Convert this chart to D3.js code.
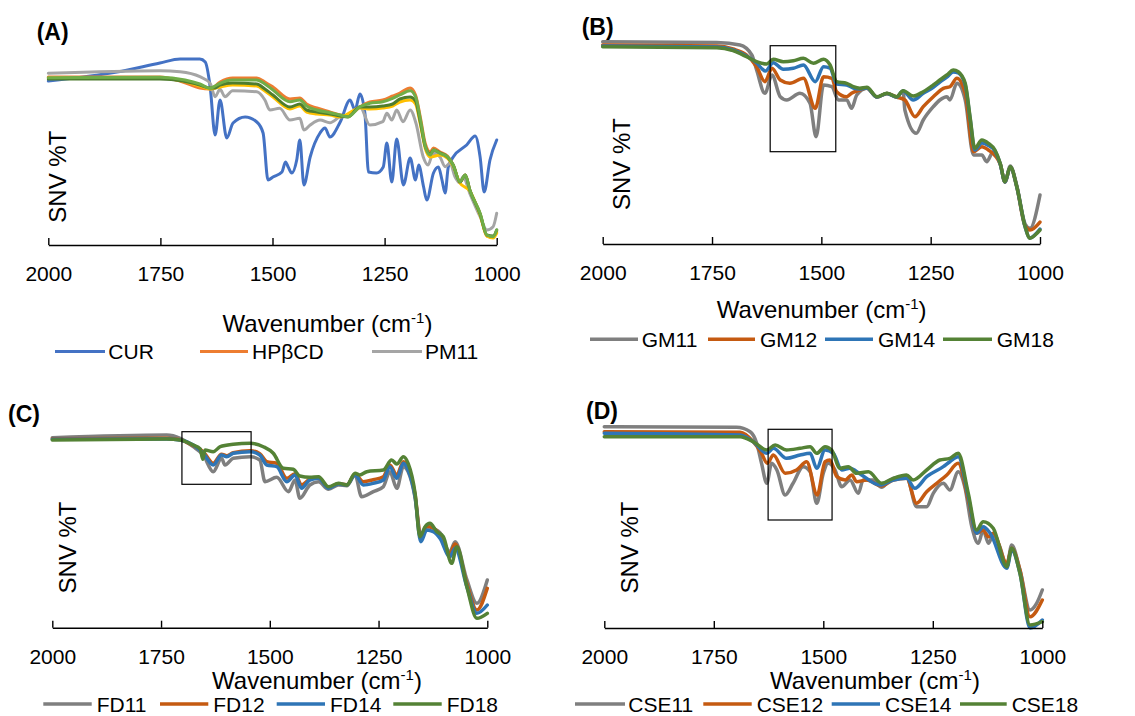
<!DOCTYPE html>
<html>
<head>
<meta charset="utf-8">
<script src="https://cdn.jsdelivr.net/npm/d3@7"></script>
<style>
  body { margin: 0; background: #fff; }
  text { font-family: "Liberation Sans", Arial, sans-serif; fill: #000; }
</style>
</head>
<body>
<script>
// x ticks shared by all four panels (cm-1)
const wavenumberTicks = [2000, 1750, 1500, 1250, 1000];

// ---- panel A : [wavenumber, SNV %T (arbitrary units)]
const legendA = ["CUR", "HPβCD", "PM11"];
const curA = [[2000,164],[1847,173],[1751,182],[1706,186],[1662,186],[1650,183],[1639,158],[1628,110],[1617,145],
  [1602,107],[1588,122],[1561,128],[1535,123],[1521,112],[1510,65],[1499,68],[1479,73],[1471,83],[1465,78],[1457,72],
  [1446,85],[1439,105],[1430,60],[1416,88],[1394,112],[1383,117],[1372,108],[1349,123],[1327,145],[1316,135],[1305,151],
  [1294,132],[1286,73],[1268,72],[1253,78],[1245,102],[1234,63],[1223,106],[1208,60],[1193,87],[1181,65],[1174,80],
  [1163,58],[1156,45],[1141,72],[1130,78],[1122,65],[1115,52],[1108,78],[1097,88],[1067,100],[1048,109],[1037,88],
  [1028,53],[1015,85],[1000,105]];
const hpbcdA = [[2000,168],[1751,168],[1700,163],[1662,157],[1639,156],[1617,163],[1589,167],[1535,167],[1517,163],
  [1499,158],[1461,146],[1439,147],[1424,141],[1401,137],[1372,133],[1349,130],[1332,129],[1305,138],[1283,143],
  [1254,145],[1232,149],[1216,152],[1193,157],[1181,150],[1170,127],[1159,101],[1148,93],[1141,97],[1126,93],
  [1110,89],[1097,80],[1082,63],[1070,70],[1060,55],[1037,31],[1022,9],[1008,8],[1000,14]];
const pm11A = [[2000,171.7],[1751,174.3],[1706,173.3],[1662,168.3],[1639,161.7],[1628,148.3],[1617,155.7],[1606,148.3],
  [1589,154.3],[1535,153.3],[1517,145],[1506,135],[1484,136.7],[1461,125],[1439,126.7],[1430,115],[1416,120],[1394,125],
  [1372,122.3],[1349,128.3],[1327,130],[1305,138.3],[1283,120],[1254,123.3],[1245,131.7],[1234,125],[1223,135],
  [1209,123.3],[1193,135],[1180,121.7],[1164,88.3],[1153,80],[1142,91.7],[1127,88.3],[1115,78.3],[1104,81.7],
  [1093,68.3],[1082,62.3],[1075,68.3],[1060,51.7],[1037,28.3],[1022,15],[1008,18.3],[1000,31.7]];
// further traces drawn in panel A but not named in its legend
const yellowA = [[2000,167],[1751,167],[1700,164],[1662,159],[1639,156],[1617,158],[1589,160],[1535,159],[1517,154],
  [1499,148],[1461,136],[1439,139],[1424,133],[1401,131],[1372,130],[1349,128],[1305,137],[1283,136],[1254,137],
  [1232,139],[1216,143],[1193,145],[1181,141],[1170,120],[1159,96],[1148,88],[1126,90],[1110,87],[1097,79],[1082,62],
  [1060,54],[1037,30],[1022,9],[1008,7],[1000,12]];
const darkGreenA = [[2000,166],[1751,166],[1700,164],[1662,160],[1639,157],[1628,157],[1617,160],[1589,162],[1535,161],
  [1517,156],[1499,150],[1461,138],[1439,141],[1424,135],[1401,133],[1372,131],[1349,129],[1332,128],[1305,138],
  [1283,138],[1254,139],[1232,141],[1216,146],[1193,148],[1181,144],[1170,122],[1159,98],[1148,91],[1141,95],
  [1126,92],[1110,88],[1097,80],[1082,63],[1070,70],[1060,55],[1037,31],[1022,10],[1008,9],[1000,15]];
const greenA = [[2000,167.3],[1751,167.7],[1695,165],[1662,161],[1639,156.7],[1628,159],[1617,161.7],[1589,165],
  [1535,165],[1517,161],[1499,155],[1461,143.3],[1439,145],[1424,139],[1401,135],[1372,132.3],[1349,130],[1332,128.3],
  [1305,138.3],[1283,141.7],[1254,143.3],[1232,146.7],[1216,150],[1193,154.3],[1181,148.3],[1170,125],[1159,98.3],
  [1148,90],[1141,95],[1126,91.7],[1110,88.3],[1097,80],[1082,63.3],[1070,70],[1060,55],[1037,31.7],[1022,10],
  [1008,8.3],[1000,15]];

// ---- panel B
const legendB = ["GM11", "GM12", "GM14", "GM18"];
const gm11 = [[2000,202.3],[1739,201.5],[1686,199],[1659,189],[1648,174],[1629,150.7],[1613,169],[1594,147.3],
  [1579,144],[1549,150.7],[1526,140.7],[1512,107.3],[1495,159],[1476,157.3],[1461,144],[1442,144],[1431,135.7],
  [1419,149],[1396,155.7],[1373,147],[1350,150.5],[1328,147],[1313,153],[1309,134],[1283,110.7],[1267,124],
  [1244,137.3],[1229,144],[1213,147.3],[1206,144],[1190,160.7],[1171,144],[1152,89],[1133,89],[1122,82.3],
  [1107,92.3],[1091,80],[1080,62],[1068,78],[1053,58],[1034,20],[1023,15.7],[1000,49]];
const gm12 = [[2000,199],[1739,198],[1702,195],[1671,189],[1648,177.3],[1629,162.3],[1613,175.7],[1594,164],
  [1572,160.7],[1541,165.7],[1514,135.7],[1495,167.3],[1476,165.7],[1465,152.3],[1442,147.3],[1431,150.7],
  [1412,154],[1396,156],[1373,147],[1350,150.5],[1328,147],[1309,144],[1286,127.3],[1267,137.3],[1244,147.3],
  [1221,155.7],[1206,157.3],[1190,165.7],[1171,150.7],[1152,92.3],[1133,97.3],[1118,94],[1091,80],[1080,62],
  [1068,77],[1053,57],[1034,18],[1023,14],[1000,22]];
const gm14 = [[2000,198],[1739,197],[1702,194],[1671,188],[1648,181],[1628,173],[1610,181.3],[1587,174.7],
  [1564,175.7],[1541,179],[1514,162.3],[1495,177.3],[1480,175.7],[1465,160],[1442,159],[1427,156],[1412,155],
  [1396,156],[1373,147],[1350,150.5],[1328,147],[1313,153],[1290,144],[1267,150.7],[1244,156.7],[1229,162],
  [1213,167],[1198,172],[1187,171],[1171,159],[1160,126],[1149,94],[1133,101],[1118,98.5],[1103,93],[1091,80],
  [1080,62],[1068,77],[1053,57],[1034,17],[1023,6],[1011,9.5],[1000,15]];
const gm18 = [[2000,197.3],[1739,196.3],[1702,193.3],[1671,187.3],[1648,182.3],[1625,180],[1610,184.7],[1587,182.3],
  [1564,183.3],[1541,185.7],[1518,180.7],[1495,184.7],[1480,179],[1465,162.3],[1442,160.7],[1427,157.3],[1412,155.7],
  [1396,156.7],[1373,147.3],[1350,150.7],[1328,147.3],[1313,153.3],[1290,148],[1267,152.3],[1244,159],[1229,164],
  [1213,169],[1198,174],[1187,172.3],[1171,160.7],[1160,127.3],[1149,95.7],[1133,104],[1118,100.7],[1103,94],
  [1091,80.7],[1080,62.3],[1068,77.3],[1053,57.3],[1034,17.3],[1023,5.7],[1011,9],[1000,14]];
const boxB = [1617, 1467, 92.3, 198.3];

// ---- panel C
const legendC = ["FD11", "FD12", "FD14", "FD18"];
const fd11 = [[2000,190],[1737,192.7],[1706,189.4],[1676,181],[1653,172.7],[1630,156],[1611,169.4],[1603,162.7],
  [1584,169.4],[1545,171],[1523,167.7],[1511,146],[1484,150.4],[1457,136],[1442,147.7],[1431,129.4],[1408,142.7],
  [1388,146],[1365,138.4],[1342,142.7],[1323,142],[1304,152.7],[1289,131],[1262,136],[1239,141],[1224,156],
  [1208,139.4],[1193,161],[1182,156],[1166,130],[1153,91],[1139,102.7],[1124,99.4],[1109,95],[1086,76],[1074,86],
  [1047,48],[1024,24.4],[1000,47.7]];
const fd12 = [[2000,189],[1737,189.5],[1706,188],[1676,182],[1653,176],[1630,164.4],[1611,173.5],[1599,172],
  [1584,175],[1545,177],[1523,174],[1507,166],[1484,164.4],[1461,149.4],[1442,154],[1427,142.7],[1408,148.5],
  [1388,150],[1365,140],[1342,144],[1323,143],[1304,153.5],[1285,146],[1262,148],[1239,151],[1224,162.7],
  [1208,152.7],[1193,166],[1182,160],[1166,133],[1153,91],[1139,101],[1124,99.4],[1109,93],[1086,74.4],[1074,83.7],
  [1047,44],[1024,17.7],[1000,39.4]];
const fd14 = [[2000,188.4],[1737,188.7],[1706,187.7],[1676,182.7],[1653,174.4],[1630,162.7],[1611,172.7],[1599,171],
  [1584,174.4],[1545,176],[1523,172.7],[1507,162.7],[1484,161],[1461,146],[1442,152.7],[1427,139.4],[1408,147.7],
  [1388,149.4],[1365,139.4],[1342,143.7],[1323,142.7],[1304,152.7],[1285,142.7],[1262,144.4],[1239,147.7],
  [1224,161],[1208,149.4],[1193,164.4],[1182,157.7],[1166,131],[1153,86],[1139,97.7],[1124,96],[1109,89.4],
  [1086,71],[1074,79.4],[1047,41],[1024,14.4],[1000,22.7]];
const fd18 = [[2000,187.7],[1737,188.7],[1706,187.7],[1676,182.7],[1660,178.7],[1654,168.4],[1649,177.7],[1630,176],
  [1614,181],[1584,183.4],[1545,184.4],[1515,181],[1492,174.4],[1469,159.4],[1446,158.4],[1431,151.7],[1408,150.4],
  [1388,151],[1365,141],[1342,144.4],[1323,142.7],[1304,154.4],[1293,152.7],[1277,156],[1239,157.7],[1220,167.7],
  [1208,163.7],[1193,171],[1182,164.4],[1166,134.4],[1155,91],[1143,101],[1132,104.4],[1116,96],[1101,91],
  [1082,64.4],[1070,81],[1047,41],[1024,9.4],[1000,14.4]];
const boxC = [1702, 1543, 143.4, 196];

// ---- panel D
const legendD = ["CSE11", "CSE12", "CSE14", "CSE18"];
const cse11 = [[2000,201.3],[1698,200.7],[1667,196.3],[1652,184.7],[1641,164.7],[1629,144.7],[1618,164.7],[1606,158],
  [1587,133],[1569,144.7],[1546,161.3],[1530,156.3],[1515,124.7],[1500,154.7],[1489,164.7],[1473,158],[1458,141.3],
  [1439,148],[1420,134.7],[1409,148],[1386,148],[1367,140.7],[1348,148],[1329,150.7],[1310,151.3],[1287,121.3],
  [1264,121.3],[1249,134.7],[1226,144.7],[1211,138],[1192,156.3],[1177,141.3],[1161,101.3],[1146,84.7],[1135,98],
  [1123,84.7],[1112,93],[1097,81.3],[1081,61.3],[1070,83],[1051,58],[1028,18],[1013,24.7],[1000,38]];
const cse12 = [[2000,196.3],[1690,195.7],[1660,186.3],[1641,174.7],[1628,164.7],[1614,173],[1587,154.7],[1561,158],
  [1538,166.3],[1514,133],[1496,166.3],[1485,168],[1469,151.3],[1450,148],[1435,153],[1424,146.3],[1401,148],
  [1367,142],[1340,148],[1310,149.7],[1287,124.7],[1264,136.3],[1241,144.7],[1218,153],[1192,164.7],[1169,128],
  [1150,94.7],[1135,98],[1123,91.3],[1112,94.7],[1081,64.7],[1070,79.7],[1051,58],[1028,11.3],[1000,28]];
const cse14 = [[2000,194.7],[1690,193],[1660,186.3],[1629,174.7],[1614,179.7],[1584,169.7],[1553,173],[1530,174.7],
  [1515,159.7],[1496,178],[1477,174.7],[1458,158],[1439,159.7],[1416,154],[1371,143],[1340,148],[1310,149.7],
  [1291,139.7],[1264,151.3],[1226,161.3],[1211,166.3],[1192,171.3],[1169,131.3],[1150,94.7],[1135,101.3],
  [1119,94.7],[1081,59.7],[1070,78],[1051,54.7],[1028,0],[1000,8]];
const cse18 = [[2000,191.3],[1690,191.3],[1660,186.3],[1629,178],[1610,183],[1584,178],[1553,179.7],[1530,181.3],
  [1515,174.7],[1496,181.3],[1481,178],[1462,159.7],[1443,161.3],[1424,154.7],[1397,156.3],[1367,144.7],[1340,149.7],
  [1310,153],[1295,148],[1264,158],[1234,168],[1211,169.7],[1192,174.7],[1169,134.7],[1150,98],[1135,106.3],
  [1112,99.7],[1081,61.3],[1070,79.7],[1051,54.7],[1028,3],[1000,6.3]];
const boxD = [1626, 1480, 108, 198.7];

const width = 1135;
const height = 716;
const yExtent = [0, 200];

const svg = d3.select("body").append("svg")
  .attr("width", width)
  .attr("height", height);

const panels = [
  { tag: "(A)", x0: 48.3, x1: 496.7, axisY: 245, lw: 3,
    series: [[curA, "#4472C4"], [hpbcdA, "#ED7D31"], [pm11A, "#A5A5A5"], [yellowA, "#FFC000"],
             [darkGreenA, "#4E7D2E"], [greenA, "#70AD47"]],
    legend: legendA, legendColors: ["#4472C4", "#ED7D31", "#A5A5A5"],
    legendPos: [[55, 105, 108.3], [200, 248, 252], [372, 422, 425]], legendY: 359,
    tagPos: [36.7, 40], snvPos: [66, 176.7], titlePos: [327.5, 332], box: null },
  { tag: "(B)", x0: 602.7, x1: 1040, axisY: 244, lw: 3.5,
    series: [[gm11, "#7F7F7F"], [gm12, "#C55A11"], [gm14, "#2E75B6"], [gm18, "#548235"]],
    legend: legendB, legendColors: ["#7F7F7F", "#C55A11", "#2E75B6", "#548235"],
    legendPos: [[590, 638, 641.7], [708, 755, 760], [825, 873, 878], [943, 992, 996.7]], legendY: 346.7,
    tagPos: [581.7, 35], snvPos: [630, 164], titlePos: [821.7, 318], box: boxB },
  { tag: "(C)", x0: 52.3, x1: 487.3, axisY: 627.7, lw: 3.5,
    series: [[fd11, "#7F7F7F"], [fd12, "#C55A11"], [fd14, "#2E75B6"], [fd18, "#548235"]],
    legend: legendC, legendColors: ["#7F7F7F", "#C55A11", "#2E75B6", "#548235"],
    legendPos: [[43.3, 91.7, 96.7], [160, 208.3, 213.3], [276.7, 325, 330], [393.3, 441.7, 446.7]], legendY: 711.5,
    tagPos: [8, 422], snvPos: [76, 547.5], titlePos: [317, 689], box: boxC },
  { tag: "(D)", x0: 604.3, x1: 1042.3, axisY: 628, lw: 3.5,
    series: [[cse11, "#7F7F7F"], [cse12, "#C55A11"], [cse14, "#2E75B6"], [cse18, "#548235"]],
    legend: legendD, legendColors: ["#7F7F7F", "#C55A11", "#2E75B6", "#548235"],
    legendPos: [[575, 625, 628.3], [703.3, 751.7, 756.7], [831.7, 880, 885], [960, 1006.7, 1011.7]], legendY: 711.5,
    tagPos: [586, 419], snvPos: [638.3, 547.5], titlePos: [875, 689], box: boxD }
];

panels.forEach(function (p) {
  const x = d3.scaleLinear().domain([2000, 1000]).range([p.x0, p.x1]);
  const y = d3.scaleLinear().domain(yExtent).range([p.axisY, p.axisY - 200]);
  const g = svg.append("g");

  const line = d3.line()
    .x(d => x(d[0]))
    .y(d => y(d[1]))
    .curve(d3.curveMonotoneX);

  g.selectAll("path.trace")
    .data(p.series)
    .enter()
    .append("path")
    .attr("class", "trace")
    .attr("fill", "none")
    .attr("stroke", d => d[1])
    .attr("stroke-width", p.lw)
    .attr("stroke-linejoin", "round")
    .attr("stroke-linecap", "round")
    .attr("d", d => line(d[0]));

  if (p.box) {
    g.append("rect")
      .attr("x", x(p.box[0]))
      .attr("y", y(p.box[3]))
      .attr("width", x(p.box[1]) - x(p.box[0]))
      .attr("height", y(p.box[2]) - y(p.box[3]))
      .attr("fill", "none")
      .attr("stroke", "#000")
      .attr("stroke-width", 1.2);
  }

  const axis = g.append("g")
    .attr("transform", "translate(0," + p.axisY + ")")
    .call(d3.axisBottom(x)
      .tickValues(wavenumberTicks)
      .tickFormat(d3.format("d"))
      .tickSizeInner(-7)
      .tickSizeOuter(0)
      .tickPadding(21.5));
  axis.select(".domain").attr("stroke", "#000").attr("stroke-width", 1.4);
  axis.selectAll(".tick line").attr("stroke", "#000").attr("stroke-width", 1.4);
  axis.selectAll(".tick text")
    .attr("font-size", 21)
    .attr("font-family", "'Liberation Sans', Arial, sans-serif")
    .attr("fill", "#000");

  const title = g.append("text")
    .attr("x", p.titlePos[0])
    .attr("y", p.titlePos[1])
    .attr("text-anchor", "middle")
    .attr("font-size", 24);
  title.append("tspan").text("Wavenumber (cm");
  title.append("tspan").attr("font-size", 15).attr("dy", -9).text("-1");
  title.append("tspan").attr("dy", 9).text(")");

  g.append("text")
    .attr("transform", "translate(" + p.snvPos[0] + "," + p.snvPos[1] + ") rotate(-90)")
    .attr("text-anchor", "middle")
    .attr("font-size", 24)
    .text("SNV %T");

  g.append("text")
    .attr("x", p.tagPos[0])
    .attr("y", p.tagPos[1])
    .attr("font-size", 23)
    .attr("font-weight", "bold")
    .text(p.tag);

  const items = g.selectAll("g.legend-item")
    .data(p.legend)
    .enter()
    .append("g")
    .attr("class", "legend-item");
  items.append("line")
    .attr("x1", (d, i) => p.legendPos[i][0])
    .attr("x2", (d, i) => p.legendPos[i][1])
    .attr("y1", p.legendY - 7.5)
    .attr("y2", p.legendY - 7.5)
    .attr("stroke", (d, i) => p.legendColors[i])
    .attr("stroke-width", p.lw);
  items.append("text")
    .attr("x", (d, i) => p.legendPos[i][2])
    .attr("y", p.legendY)
    .attr("font-size", 21)
    .text(d => d);
});
</script>
</body>
</html>
